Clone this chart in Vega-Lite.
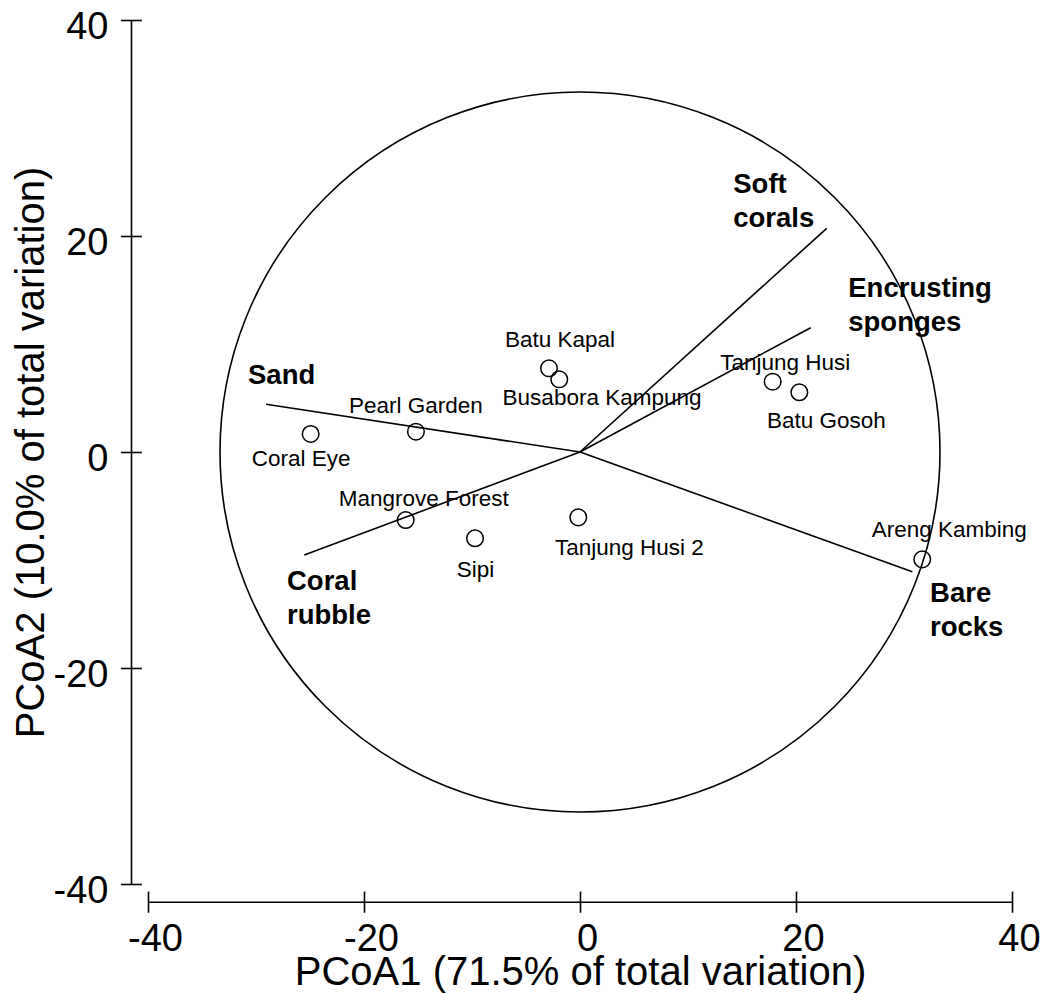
{
  "$schema": "https://vega.github.io/schema/vega-lite/v6.json",
  "width": 864,
  "height": 864,
  "autosize": "none",
  "padding": {"left": 148, "top": 20, "right": 48, "bottom": 109},
  "background": "white",
  "config": {"view": {"stroke": null}, "font": "Liberation Sans"},
  "datasets": {
    "centre": [{"x": 0, "y": 0}],
    "sites": [
      {"site": "Coral Eye", "x": -24.94, "y": 1.67, "lx": -25.83, "ly": -1.30},
      {"site": "Pearl Garden", "x": -15.19, "y": 1.88, "lx": -15.19, "ly": 3.58},
      {"site": "Batu Kapal", "x": -2.87, "y": 7.75, "lx": -1.85, "ly": 9.75},
      {"site": "Busabora Kampung", "x": -1.92, "y": 6.73, "lx": 2.04, "ly": 4.35},
      {"site": "Tanjung Husi", "x": 17.84, "y": 6.51, "lx": 19.01, "ly": 7.59},
      {"site": "Batu Gosoh", "x": 20.31, "y": 5.53, "lx": 22.81, "ly": 2.19},
      {"site": "Mangrove Forest", "x": -16.14, "y": -6.30, "lx": -14.47, "ly": -5.00},
      {"site": "Sipi", "x": -9.72, "y": -7.99, "lx": -9.68, "ly": -11.55},
      {"site": "Tanjung Husi 2", "x": -0.16, "y": -6.05, "lx": 4.58, "ly": -9.54},
      {"site": "Areng Kambing", "x": 31.69, "y": -9.94, "lx": 34.19, "ly": -7.84}
    ],
    "vectors": [
      {"variable": "Sand", "x": -29.07, "y": 4.42, "lx": -30.74, "ly": 6.27},
      {"variable": "Soft\ncorals", "x": 22.84, "y": 20.71, "lx": 14.19, "ly": 23.95},
      {"variable": "Encrusting\nsponges", "x": 21.36, "y": 11.51, "lx": 24.84, "ly": 14.38},
      {"variable": "Bare\nrocks", "x": 30.77, "y": -11.08, "lx": 32.41, "ly": -13.86},
      {"variable": "Coral\nrubble", "x": -25.53, "y": -9.54, "lx": -27.13, "ly": -12.78}
    ]
  },
  "layer": [
    {
      "data": {"name": "centre"},
      "mark": {"type": "point", "shape": "circle", "size": 518400, "filled": false, "stroke": "black", "strokeWidth": 1.6, "opacity": 1},
      "encoding": {
        "x": {
          "field": "x", "type": "quantitative",
          "scale": {"domain": [-40, 40], "nice": false, "zero": false},
          "axis": {
            "orient": "bottom", "values": [-40, -20, 0, 20, 40], "offset": 7.1,
            "tickSize": 21.2, "tickWidth": 1.6, "tickColor": "black",
            "domain": false, "grid": false,
            "labelExpr": "'' + datum.value",
            "labelFont": "Liberation Sans", "labelFontSize": 38, "labelColor": "black",
            "labelPadding": 8, "labelOffset": 7, "labelFlush": false, "labelOverlap": false,
            "title": "PCoA1 (71.5% of total variation)",
            "titleFont": "Liberation Sans", "titleFontSize": 40, "titleFontWeight": "normal",
            "titleColor": "black", "titlePadding": -6
          }
        },
        "y": {
          "field": "y", "type": "quantitative",
          "scale": {"domain": [-40, 40], "nice": false, "zero": false},
          "axis": {
            "orient": "left", "values": [-40, -20, 0, 20, 40], "offset": 6.6,
            "tickSize": 21, "tickWidth": 1.6, "tickColor": "black",
            "domain": false, "grid": false,
            "labelExpr": "'' + datum.value",
            "labelFont": "Liberation Sans", "labelFontSize": 38, "labelColor": "black",
            "labelPadding": 12.4, "labelOffset": 7.5, "labelBaseline": "middle",
            "labelFlush": false, "labelOverlap": false,
            "title": "PCoA2 (10.0% of total variation)",
            "titleFont": "Liberation Sans", "titleFontSize": 40, "titleFontWeight": "normal",
            "titleColor": "black", "titlePadding": 1.5
          }
        }
      }
    },
    {
      "data": {"name": "vectors"},
      "mark": {"type": "rule", "stroke": "black", "strokeWidth": 1.6},
      "encoding": {
        "x": {"field": "x", "type": "quantitative", "axis": null},
        "y": {"field": "y", "type": "quantitative", "axis": null},
        "x2": {"datum": 0},
        "y2": {"datum": 0}
      }
    },
    {
      "data": {"name": "sites"},
      "mark": {"type": "point", "shape": "circle", "size": 275, "filled": false, "stroke": "black", "strokeWidth": 1.5, "opacity": 1},
      "encoding": {
        "x": {"field": "x", "type": "quantitative", "axis": null},
        "y": {"field": "y", "type": "quantitative", "axis": null}
      }
    },
    {
      "data": {"name": "sites"},
      "mark": {"type": "text", "font": "Liberation Sans", "fontSize": 22.5, "align": "center", "baseline": "alphabetic", "color": "black"},
      "encoding": {
        "x": {"field": "lx", "type": "quantitative", "axis": null},
        "y": {"field": "ly", "type": "quantitative", "axis": null},
        "text": {"field": "site"}
      }
    },
    {
      "data": {"name": "vectors"},
      "mark": {"type": "text", "font": "Liberation Sans", "fontSize": 27.5, "fontWeight": "bold", "align": "left", "baseline": "alphabetic", "lineBreak": "\n", "lineHeight": 34, "color": "black"},
      "encoding": {
        "x": {"field": "lx", "type": "quantitative", "axis": null},
        "y": {"field": "ly", "type": "quantitative", "axis": null},
        "text": {"field": "variable"}
      }
    },
    {
      "data": {"name": "centre"},
      "mark": {"type": "point", "opacity": 0},
      "encoding": {
        "x": {
          "field": "x", "type": "quantitative",
          "axis": {"orient": "bottom", "offset": 17.7, "ticks": false, "labels": false, "domain": true, "domainColor": "black", "domainWidth": 1.6, "grid": false, "title": null}
        },
        "y": {
          "field": "y", "type": "quantitative",
          "axis": {"orient": "left", "offset": 17, "ticks": false, "labels": false, "domain": true, "domainColor": "black", "domainWidth": 1.6, "grid": false, "title": null}
        }
      }
    }
  ],
  "resolve": {"axis": {"x": "independent", "y": "independent"}}
}
